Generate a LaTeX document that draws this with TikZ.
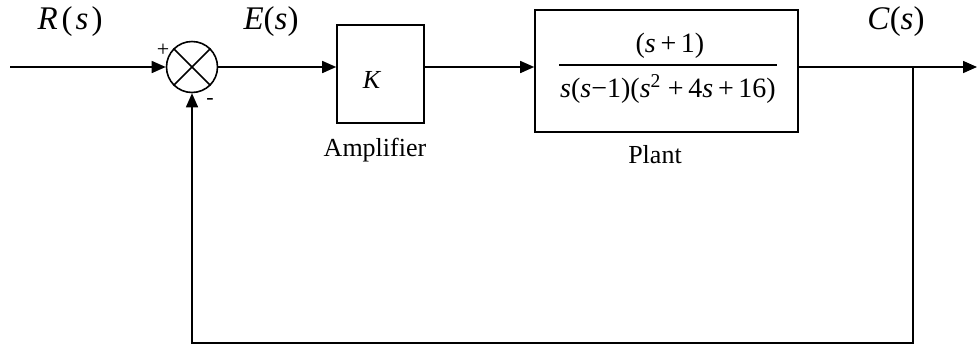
\documentclass[tikz,border=0pt]{standalone}
\usepackage[no-math]{fontspec}
\setmainfont{Liberation Serif}
\usetikzlibrary{arrows.meta,calc}
\begin{document}
\begin{tikzpicture}[x=1pt,y=-1pt,
  line width=1.6pt,
  wire/.style={-{Triangle[length=14pt,width=12pt]}},
  blk/.style={draw,rectangle,inner sep=0pt,line width=1.6pt},
  sig/.style={font=\fontsize{33}{36}\selectfont,inner sep=0pt},
  caption/.style={font=\fontsize{26}{30}\selectfont,inner sep=0pt},
  fracpart/.style={font=\fontsize{28}{32}\selectfont,inner sep=0pt},
  sgn/.style={font=\fontsize{22}{24}\selectfont,inner sep=0pt}]
\useasboundingbox (0,0) rectangle (978,349);
\node[draw,circle,minimum size=51pt,inner sep=0pt] (sum) at (192,67) {};
\draw (sum.north west) -- (sum.south east) (sum.north east) -- (sum.south west);
\node[blk,minimum width=87pt,minimum height=98pt] (K) at (380.5,74) {};
\node[font=\fontsize{26}{28}\selectfont,inner sep=0pt] (Klab) at (372,80) {\textit{K}};
\node[blk,minimum width=263pt,minimum height=122pt] (plant) at (666.5,71) {};
\node[fracpart] (num) at (670,46) {(\textit{s}\,+\,1)};
\node[fracpart] (den) at (668,89) {\textit{s}(\textit{s}\char"2212 1)(\textit{s}\textsuperscript{2} +\,4\textit{s}\,+\,16)};
\draw[line width=1.3pt] (den.west |- 0,65) -- (den.east |- 0,65);
\node[caption] (amp) at (375,150) {Amplifier};
\node[caption] (plab) at (655,155) {Plant};
\node[sig] (R) at (70,22) {\textit{R}\hspace{4pt}(\hspace{3pt}\textit{s}\hspace{3pt})};
\node[sig] (E) at (271,22) {\textit{E}(\textit{s})};
\node[sig] (C) at (896,22) {\textit{C}(\textit{s})};
\node[sgn] (plus) at (163,50) {+};
\node[sgn] (minus) at (210,101) {-};
\coordinate (in) at (10,67);
\coordinate (out) at (977,67);
\coordinate (br) at (913,67);
\coordinate (bR) at (913,343);
\coordinate (bL) at (192,343);
\draw[wire] (in) -- (sum.west);
\draw[wire] (sum.east) -- (sum.east -| K.west);
\draw[wire] (K.east |- sum.east) -- (plant.west |- sum.east);
\draw[wire] (plant.east |- sum.east) -- (out);
\draw[wire] (br) -- (bR) -- (bL) -- (sum.south);
\end{tikzpicture}
\end{document}
